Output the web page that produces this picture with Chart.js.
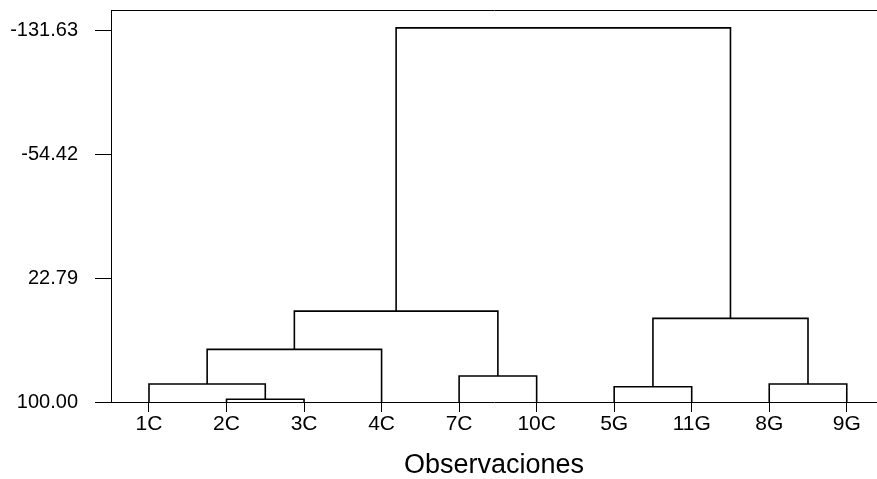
<!DOCTYPE html>
<html lang="es">
<head>
  <meta charset="UTF-8" />
  <title>Dendrograma - Observaciones</title>
  <script src="https://cdn.jsdelivr.net/npm/chart.js"></script>
  <style>
    html, body { margin: 0; padding: 0; background: #fff; }
    .chart-container { width: 877px; height: 479px; }
  </style>
</head>
<body>
  <div class="chart-container">
    <canvas id="dendro"></canvas>
  </div>

  <script>
    // leaves in display order
    const leaves = ['1C', '2C', '3C', '4C', '7C', '10C', '5G', '11G', '8G', '9G'];
    // merges: cluster ids 0..9 are leaves, 10.. are merges in this order
    const mergeLeft = [1, 0, 11, 4, 12, 6, 8, 15, 14];
    const mergeRight = [2, 10, 3, 5, 13, 7, 9, 16, 17];
    const mergeHeight = [98.3, 88.8, 67.2, 83.8, 43.4, 90.5, 88.8, 47.9, -133.0];
    const leafHeight = 100;
    const yTicks = [-131.63, -54.42, 22.79, 100.00];

    const pos = leaves.map((_, i) => i);
    const hgt = leaves.map(() => leafHeight);
    const datasets = [];
    mergeLeft.forEach((l, k) => {
      const r = mergeRight[k];
      const h = mergeHeight[k];
      datasets.push({
        data: [
          { x: pos[l], y: hgt[l] },
          { x: pos[l], y: h },
          { x: pos[r], y: h },
          { x: pos[r], y: hgt[r] }
        ],
        borderColor: '#000',
        borderWidth: 1.6,
        showLine: true,
        pointRadius: 0,
        fill: false
      });
      pos.push((pos[l] + pos[r]) / 2);
      hgt.push(h);
    });

    Chart.defaults.font.family = '"Liberation Sans", Arial, sans-serif';
    Chart.defaults.color = '#000';

    const noPad = s => { s.paddingTop = 0; s.paddingBottom = 0; s.paddingLeft = 0; s.paddingRight = 0; };

    new Chart(document.getElementById('dendro'), {
      type: 'scatter',
      data: { datasets },
      options: {
        responsive: true,
        maintainAspectRatio: false,
        animation: false,
        layout: { padding: { top: 10, right: 0, left: 0, bottom: 0 } },
        plugins: { legend: { display: false }, tooltip: { enabled: false } },
        scales: {
          x: {
            type: 'linear',
            min: -0.49,
            max: 9.39,
            afterBuildTicks: s => { s.ticks = leaves.map((_, i) => ({ value: i })); },
            afterFit: s => { s.height = 77; noPad(s); },
            ticks: {
              callback: v => leaves[v],
              font: { size: 21 },
              padding: 0,
              maxRotation: 0,
              autoSkip: false
            },
            grid: { drawOnChartArea: false, tickLength: 10, color: '#000' },
            border: { color: '#000', width: 1 },
            title: {
              display: true,
              text: 'Observaciones',
              font: { size: 27, lineHeight: 1 },
              padding: { top: 0, bottom: 0 }
            }
          },
          xTop: {
            type: 'linear',
            position: 'top',
            min: -0.49,
            max: 9.39,
            ticks: { display: false },
            grid: { display: false },
            border: { color: '#000', width: 1 },
            afterFit: s => { s.height = 0; noPad(s); }
          },
          y: {
            reverse: true,
            min: -144.1,
            max: 100,
            afterBuildTicks: s => { s.ticks = yTicks.map(v => ({ value: v })); },
            afterFit: s => { s.width = 111; noPad(s); },
            ticks: {
              callback: v => v.toFixed(2),
              font: { size: 20 },
              padding: 17
            },
            grid: { drawOnChartArea: false, tickLength: 16, color: '#000' },
            border: { color: '#000', width: 1 }
          }
        }
      }
    });
  </script>
</body>
</html>
